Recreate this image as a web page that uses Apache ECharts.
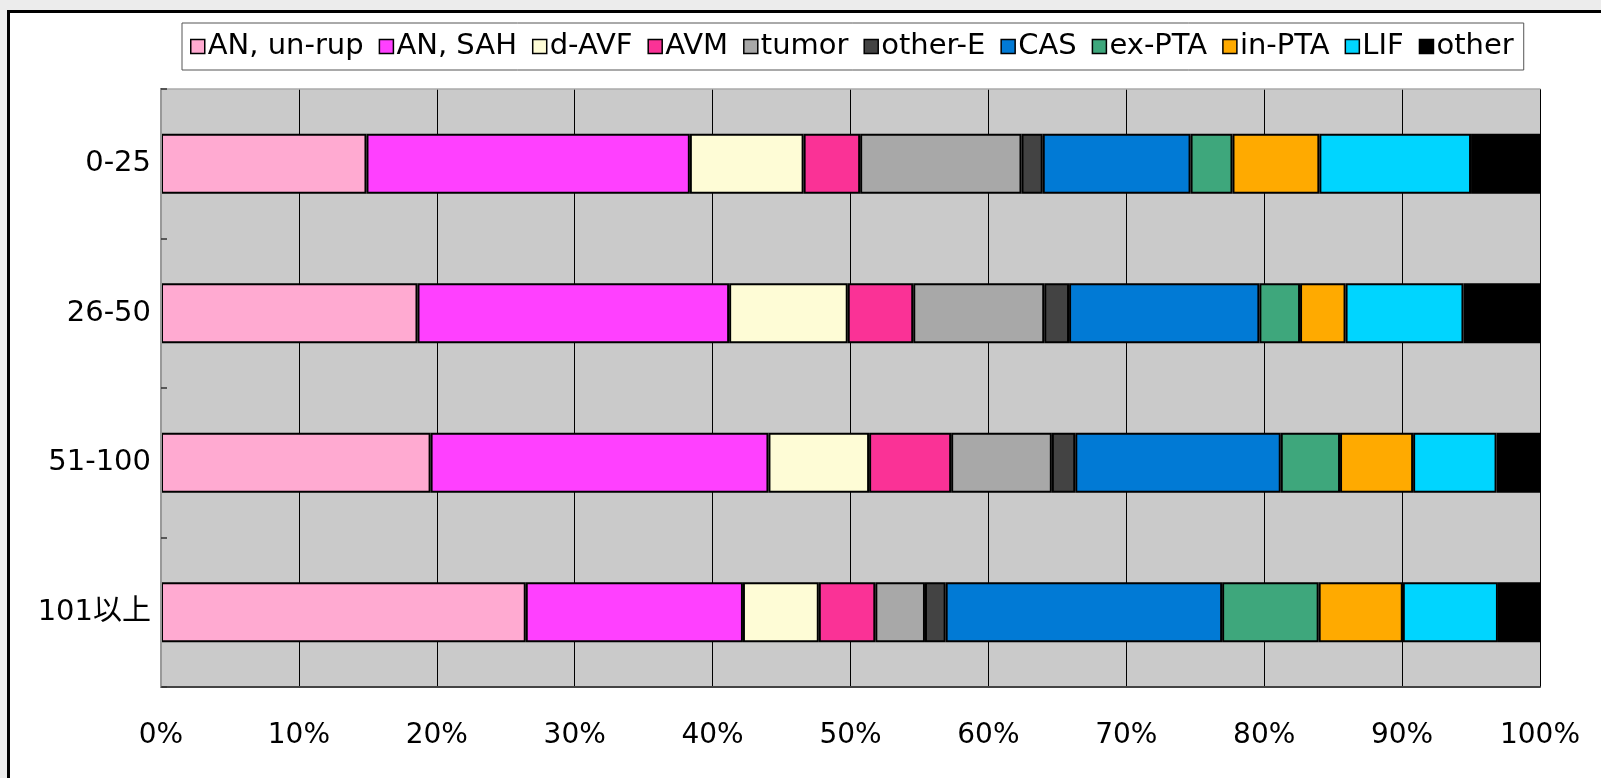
<!DOCTYPE html>
<html>
<head>
<meta charset="utf-8">
<script src="https://cdn.jsdelivr.net/npm/echarts@6/dist/echarts.min.js"></script>
<style>
  html, body { margin: 0; padding: 0; width: 1601px; height: 778px; overflow: hidden; background: #ececec; }
  #frame { position: absolute; left: 7px; top: 10px; width: 1594px; height: 768px; background: #fff;
           border-top: 3px solid #000; border-left: 3px solid #000; box-sizing: border-box; }
  #chart { position: absolute; left: 0; top: 0; width: 1601px; height: 778px; }
</style>
</head>
<body>
<div id="frame"></div>
<div id="chart"></div>
<script>
// ---- data ----
const categories = ['0-25', '26-50', '51-100', '101以上'];
const seriesNames = ['AN, un-rup', 'AN, SAH', 'd-AVF', 'AVM', 'tumor', 'other-E', 'CAS', 'ex-PTA', 'in-PTA', 'LIF', 'other'];
const anUnrup = [14.9, 18.6, 19.55, 26.45];
const anSah   = [23.45, 22.6, 24.5, 15.75];
const dAvf    = [8.25, 8.6, 7.3, 5.5];
const avm     = [4.1, 4.75, 5.95, 4.1];
const tumor   = [11.7, 9.5, 7.3, 3.6];
const otherE  = [1.54, 1.8, 1.7, 1.5];
const cas     = [10.72, 13.8, 14.9, 20.05];
const exPta   = [3.04, 2.95, 4.3, 7.0];
const inPta   = [6.3, 3.3, 5.3, 6.1];
const lif     = [11.0, 8.55, 6.05, 6.9];
const other   = [5.0, 5.55, 3.15, 3.05];
const xTicks = { min: 0, max: 100, interval: 10 };

// ---- styles ----
const colors = ['#ffaad1', '#ff40ff', '#fefcd6', '#fa3296', '#a8a8a8', '#434343', '#017ad5', '#3ea77c', '#ffaa00', '#00d5ff', '#000000'];
const values = [anUnrup, anSah, dAvf, avm, tumor, otherE, cas, exPta, inPta, lif, other];
const FONT = '"DejaVu Sans", "Noto Sans CJK JP", sans-serif';

const chart = echarts.init(document.getElementById('chart'), null, { renderer: 'canvas' });
chart.setOption({
  backgroundColor: 'transparent',
  animation: false,
  color: colors,
  legend: {
    left: 182, top: 23,
    orient: 'horizontal',
    icon: 'rect',
    itemWidth: 14, itemHeight: 14, itemGap: 15,
    padding: [9, 10, 9, 8],
    backgroundColor: '#fff',
    borderColor: '#555', borderWidth: 1,
    itemStyle: { borderColor: '#000', borderWidth: 1.5 },
    textStyle: { fontFamily: FONT, fontSize: 29, color: '#000', padding: [0, 0, 0, -2] },
    data: seriesNames
  },
  grid: {
    left: 161, top: 89, width: 1379, height: 598,
    show: true, backgroundColor: '#cacaca', borderWidth: 0,
    containLabel: false
  },
  xAxis: [{
    type: 'value', position: 'bottom',
    min: xTicks.min, max: xTicks.max, interval: xTicks.interval,
    axisLabel: { formatter: '{value}%', fontFamily: FONT, fontSize: 28, color: '#000', margin: 35 },
    axisLine: { show: true, lineStyle: { color: '#444', width: 2 } },
    axisTick: { show: false },
    splitLine: { show: true, lineStyle: { color: '#000', width: 1 } }
  }, {
    type: 'value', position: 'top',
    min: xTicks.min, max: xTicks.max, interval: xTicks.interval,
    axisLabel: { show: false },
    axisLine: { show: true, lineStyle: { color: '#aaa', width: 1.5 } },
    axisTick: { show: false },
    splitLine: { show: false }
  }],
  yAxis: [{
    type: 'category', inverse: true, position: 'left',
    data: categories,
    axisLabel: { fontFamily: FONT, fontSize: 29, color: '#000', margin: 10 },
    axisLine: { show: true, lineStyle: { color: '#555', width: 2 } },
    axisTick: { show: true, inside: true, length: 6, lineStyle: { color: '#333', width: 1.5 } },
    splitLine: { show: false },
    z: 5
  }, {
    type: 'category', inverse: true, position: 'right',
    data: categories,
    axisLabel: { show: false },
    axisLine: { show: true, lineStyle: { color: '#999', width: 2 } },
    axisTick: { show: false },
    splitLine: { show: false },
    z: 5
  }],
  series: seriesNames.map((name, i) => ({
    name: name,
    type: 'bar',
    stack: 'total',
    xAxisIndex: 0, yAxisIndex: 0,
    barCategoryGap: '60%',
    itemStyle: { color: colors[i], borderColor: '#000', borderWidth: 2 },
    emphasis: { disabled: true },
    data: values[i]
  }))
});
</script>
</body>
</html>
